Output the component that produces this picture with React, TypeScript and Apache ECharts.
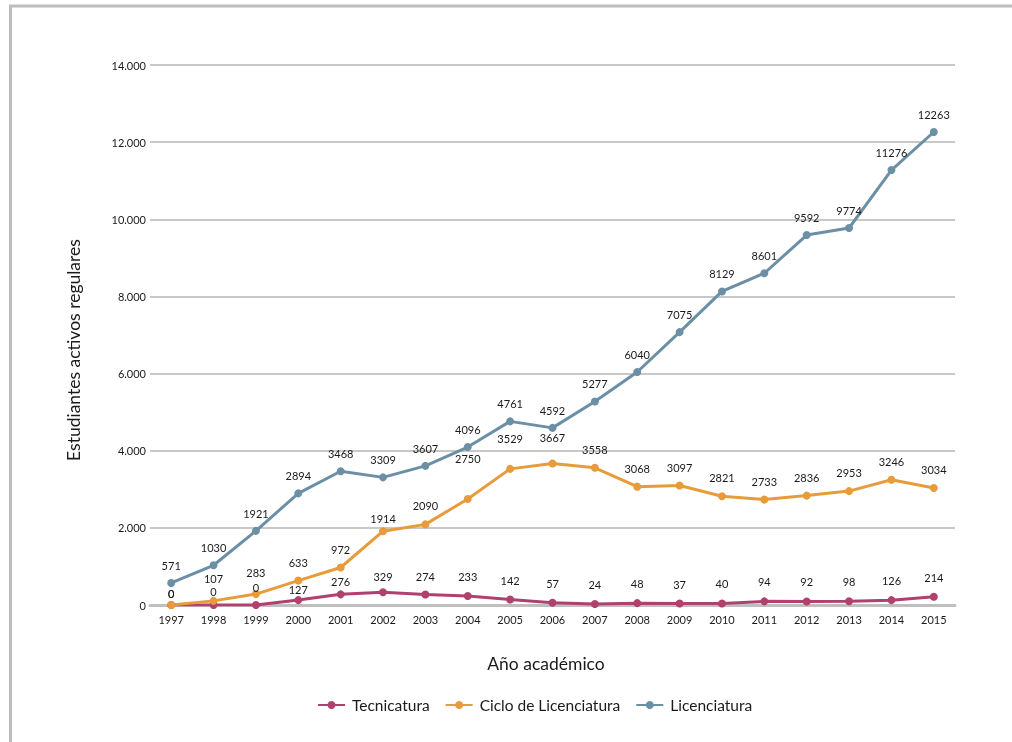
import React, { useEffect, useRef } from "react";
import * as echarts from "echarts";

const years = ["1997","1998","1999","2000","2001","2002","2003","2004","2005","2006","2007","2008","2009","2010","2011","2012","2013","2014","2015"];
const tecnicatura = [0,0,0,127,276,329,274,233,142,57,24,48,37,40,94,92,98,126,214];
const ciclo = [0,107,283,633,972,1914,2090,2750,3529,3667,3558,3068,3097,2821,2733,2836,2953,3246,3034];
const licenciatura = [571,1030,1921,2894,3468,3309,3607,4096,4761,4592,5277,6040,7075,8129,8601,9592,9774,11276,12263];
const yTicks = { min: 0, max: 14000, interval: 2000 };

// label distances (px above point) where the original nudged them
const tecLabelDist: Record<number, number> = { 0: 2, 1: 4, 2: 8, 3: 1, 4: 3, 5: 6, 6: 8 };
const cicloLabelDist: Record<number, number> = { 0: 2, 1: 13, 2: 12, 5: 3, 7: 31, 8: 21, 9: 17 };

const FONT = "Lato, 'Open Sans', sans-serif";

function fmt(v: number) {
  return String(v).replace(/\B(?=(\d{3})+(?!\d))/g, ".");
}

export default function App() {
  const ref = useRef<HTMLDivElement>(null);
  useEffect(() => {
    if (!ref.current) return;
    const chart = echarts.init(ref.current, null, { renderer: "svg" });
    const mk = (name: string, data: number[], color: string, dist: number, nudges: Record<number, number>) => ({
      name,
      type: "line",
      data: data.map((v, i) =>
        nudges[i] !== undefined ? { value: v, label: { distance: nudges[i] } } : v
      ),
      symbol: "circle",
      symbolSize: 8,
      itemStyle: { color },
      lineStyle: { color, width: 3 },
      label: {
        show: true,
        position: "top",
        distance: dist,
        color: "#1a1a1a",
        fontSize: 11,
        fontFamily: FONT,
      },
    });
    chart.setOption({
      animation: false,
      textStyle: { fontFamily: FONT },
      grid: { left: 150, right: 57, top: 65, bottom: 137, containLabel: false },
      xAxis: {
        type: "category",
        data: years,
        boundaryGap: true,
        axisLine: { lineStyle: { color: "#bfbfbf", width: 3 } },
        axisTick: { show: false },
        axisLabel: { color: "#1a1a1a", fontSize: 11, margin: 9, fontFamily: FONT },
      },
      yAxis: {
        type: "value",
        min: yTicks.min,
        max: yTicks.max,
        interval: yTicks.interval,
        axisLine: { show: false },
        axisTick: { show: false },
        axisLabel: { color: "#1a1a1a", fontSize: 11, margin: 4, formatter: (v: number) => fmt(v), fontFamily: FONT },
        splitLine: { lineStyle: { color: "#c8c8c8", width: 2 } },
      },
      legend: {
        top: 692,
        left: 312,
        itemWidth: 27,
        itemHeight: 10,
        itemGap: 15,
        textStyle: { fontSize: 15.5, color: "#1a1a1a", fontFamily: FONT, padding: [0, 0, 0, 2] },
        data: ["Tecnicatura", "Ciclo de Licenciatura", "Licenciatura"],
      },
      graphic: [
        { type: "line", shape: { x1: 10.5, y1: 6, x2: 10.5, y2: 742 }, style: { stroke: "#bdbdbd", lineWidth: 3 } },
        { type: "line", shape: { x1: 9, y1: 6, x2: 1012, y2: 6 }, style: { stroke: "#bdbdbd", lineWidth: 3 } },
        {
          type: "text",
          x: 546,
          y: 663,
          style: { text: "Año académico", fontSize: 17.5, fill: "#1a1a1a", fontFamily: FONT, align: "center", verticalAlign: "middle" },
        },
        {
          type: "text",
          x: 73,
          y: 350,
          rotation: Math.PI / 2,
          style: { text: "Estudiantes activos regulares", fontSize: 17.5, fill: "#1a1a1a", fontFamily: FONT, align: "center", verticalAlign: "middle" },
        },
      ],
      series: [
        mk("Tecnicatura", tecnicatura, "#b0416e", 10, tecLabelDist),
        mk("Ciclo de Licenciatura", ciclo, "#e89b3b", 9, cicloLabelDist),
        mk("Licenciatura", licenciatura, "#6b8fa4", 8, {}),
      ],
    });
    return () => chart.dispose();
  }, []);
  return <div ref={ref} style={{ position: "fixed", left: 0, top: 0, width: 1012, height: 742 }} />;
}
